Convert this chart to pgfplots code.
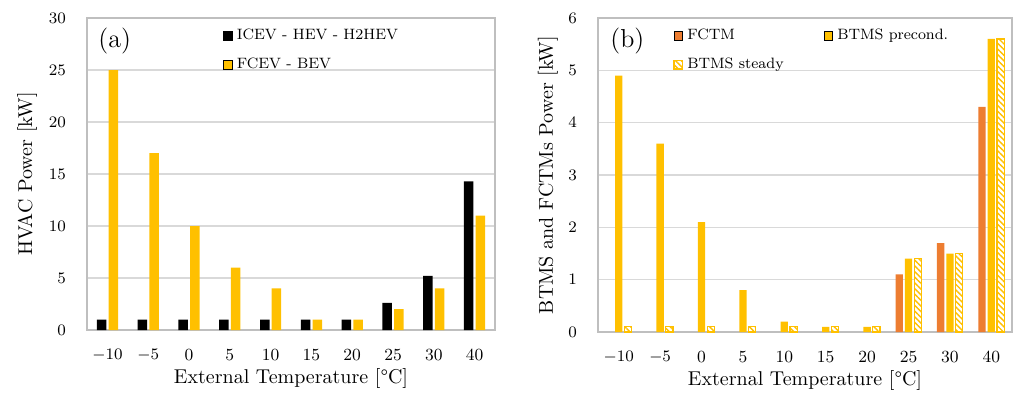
\documentclass[border=0pt]{standalone}
\usepackage{pgfplots}
\pgfplotsset{compat=1.18}
\usetikzlibrary{patterns.meta}
\definecolor{cy}{HTML}{FFC000}
\definecolor{co}{HTML}{ED7D31}
\definecolor{cgrid}{HTML}{D9D9D9}
\definecolor{caxis}{HTML}{BFBFBF}
\pgfplotsset{
 mystyle/.style={
  scale only axis, ybar, xmin=-0.5, xmax=9.5, ymin=0,
  xtick={0,...,9}, xticklabels={$-10$,$-5$,0,5,10,15,20,25,30,40},
  major tick length=0pt, axis line style={caxis, line width=0.7pt},
  ymajorgrids, grid style={cgrid, line width=0.6pt},
  tick label style={font=\fontsize{8.5}{10}\selectfont},
  xticklabel style={yshift=-6pt}, yticklabel style={xshift=-7pt},
  every axis x label/.style={at={(axis description cs:0.5,0)}, anchor=center, yshift=-24pt, font=\fontsize{10}{12}\selectfont},
  every axis y label/.style={rotate=90, anchor=center, font=\fontsize{10}{12}\selectfont},
  legend style={draw=none, fill=none, font=\fontsize{7.5}{9}\selectfont, anchor=north west, inner sep=0pt, row sep=3.5pt, cells={anchor=west}},
  /pgfplots/ybar legend/.style={/pgfplots/legend image code/.code={\draw[##1] (0pt,-2.2pt) rectangle (4.4pt,2.2pt);}},
 }
}
\begin{document}
\begin{tikzpicture}
\useasboundingbox (0,0) rectangle (507.5pt,196pt);
\begin{axis}[mystyle, at={(43.5pt,31pt)}, anchor=south west, width=204pt, height=156pt,
  ymax=30, ytick={0,5,...,30}, ybar=1.1pt, bar width=4.75pt,
  ylabel={HVAC Power [kW]}, xlabel={External Temperature [°C]},
  ylabel style={at={(axis description cs:-0.147,0.5)}},
  legend style={at={(axis description cs:0.333,0.978)}}]
\addplot[fill=black, draw=none] coordinates {(0,1) (1,1) (2,1) (3,1) (4,1) (5,1) (6,1) (7,2.6) (8,5.2) (9,14.3)};
\addlegendentry{ICEV - HEV - H2HEV}
\addplot[fill=cy, draw=none] coordinates {(0,25) (1,17) (2,10) (3,6) (4,4) (5,1) (6,1) (7,2) (8,4) (9,11)};
\addlegendentry{FCEV - BEV}
\node[anchor=north west, inner sep=0pt, font=\fontsize{13}{15}\selectfont] at (rel axis cs:0.027,0.97) {(a)};
\end{axis}
\begin{axis}[mystyle, at={(299pt,30pt)}, anchor=south west, width=207pt, height=157pt,
  ymax=6, ytick={0,1,...,6}, ybar=1pt, bar width=3.65pt,
  ylabel={BTMS and FCTMs Power [kW]}, xlabel={External Temperature [°C]},
  ylabel style={at={(axis description cs:-0.121,0.5)}},
  legend columns=2,
  legend style={at={(axis description cs:0.181,0.978)}, /tikz/every even column/.append style={column sep=18pt}}]
\addplot[fill=co, draw=none] coordinates {(7,1.1) (8,1.7) (9,4.3)};
\addlegendentry{FCTM}
\addplot[fill=cy, draw=none] coordinates {(0,4.9) (1,3.6) (2,2.1) (3,0.8) (4,0.2) (5,0.1) (6,0.1) (7,1.4) (8,1.5) (9,5.6)};
\addlegendentry{BTMS precond.}
\addplot[fill=white, draw=cy, line width=0.6pt, postaction={pattern={Lines[angle=-45,distance=2pt,line width=0.7pt]}, pattern color=cy}] coordinates {(0,0.1) (1,0.1) (2,0.1) (3,0.1) (4,0.1) (5,0.1) (6,0.1) (7,1.4) (8,1.5) (9,5.6)};
\addlegendentry{BTMS steady}
\node[anchor=north west, inner sep=0pt, font=\fontsize{13}{15}\selectfont] at (rel axis cs:0.029,0.97) {(b)};
\end{axis}
\end{tikzpicture}
\end{document}
